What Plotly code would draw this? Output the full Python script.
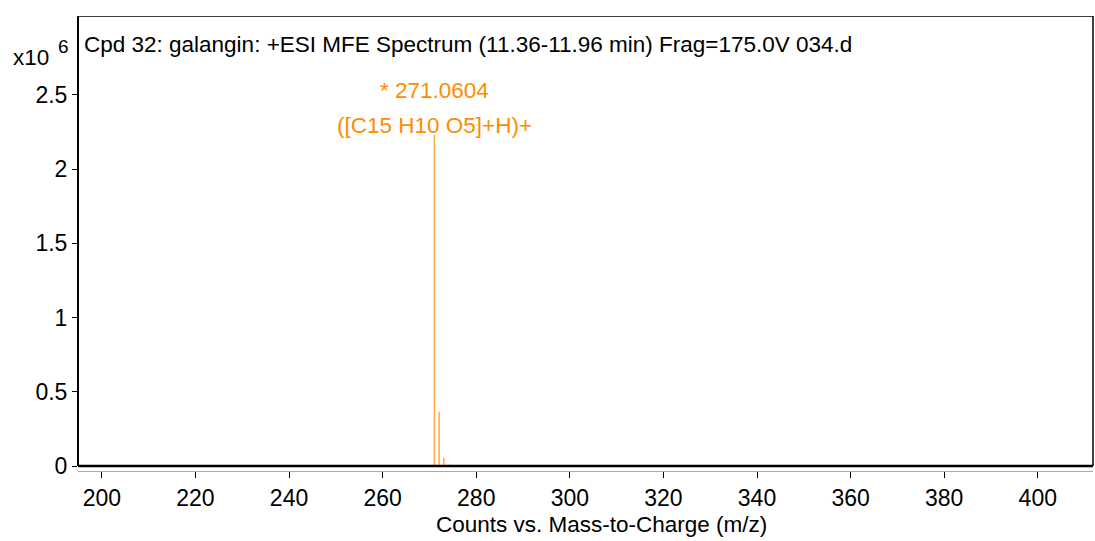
import plotly.graph_objects as go

# Spectrum peaks (m/z, counts in units of 1e6)
mz = [271.0604, 272.0637, 273.0665, 274.069]
counts = [2.23, 0.366, 0.054, 0.010]

peak_label_mz = 271.0604
peak_label_count = 2.23
peak_label_lines = ["* 271.0604", "([C15 H10 O5]+H)+"]

title_text = "Cpd 32: galangin: +ESI MFE Spectrum (11.36-11.96 min) Frag=175.0V 034.d"
x_title = "Counts vs. Mass-to-Charge (m/z)"
x_ticks = [200, 220, 240, 260, 280, 300, 320, 340, 360, 380, 400]
y_ticks = [0, 0.5, 1, 1.5, 2, 2.5]
y_ticklabels = ["0", "0.5", "1", "1.5", "2", "2.5"]

FONT = "Liberation Sans, Arial"
ORANGE = "#FF8C00"
LINE_ORANGE = "#FFAA44"

xs, ys = [], []
for m, c in zip(mz, counts):
    xs += [m, m, None]
    ys += [0, c, None]

fig = go.Figure()
fig.add_trace(go.Scatter(x=xs, y=ys, mode="lines",
                         line=dict(color=LINE_ORANGE, width=1.5),
                         hoverinfo="skip", showlegend=False))

xr = [194.9, 411.8]
yr = [-0.0337, 3.032]

PLOT_BOTTOM = 471
PLOT_H = 455
PLOT_LEFT = 78
PLOT_W = 1015


def py(ypx):
    return (PLOT_BOTTOM - ypx) / PLOT_H


def px(xpx):
    return (xpx - PLOT_LEFT) / PLOT_W


fig.update_layout(
    width=1095, height=541,
    margin=dict(l=78, r=2, t=16, b=70, autoexpand=False),
    paper_bgcolor="white", plot_bgcolor="white",
    font=dict(family=FONT, size=22, color="black"),
    xaxis=dict(range=xr, tickvals=x_ticks, ticks="outside", ticklen=6,
               tickcolor="black", tickwidth=1, showline=True, linecolor="#aaaaaa",
               linewidth=1, showgrid=False, zeroline=False, automargin=False,
               tickfont=dict(family=FONT, size=23)),
    yaxis=dict(range=yr, tickvals=y_ticks, ticktext=y_ticklabels, ticks="outside",
               ticklen=5, tickcolor="black", showline=False, showgrid=False,
               zeroline=False, automargin=False, tickfont=dict(family=FONT, size=23)),
)

# frame
fig.add_shape(type="line", xref="paper", yref="y", x0=0, x1=1, y0=0, y1=0,
              line=dict(color="black", width=2.5))
fig.add_shape(type="line", xref="paper", yref="y", x0=0, x1=0, y0=0, y1=yr[1],
              line=dict(color="black", width=2))
fig.add_shape(type="line", xref="paper", yref="y", x0=0, x1=1, y0=yr[1], y1=yr[1],
              line=dict(color="black", width=1.5))
fig.add_shape(type="line", xref="paper", yref="y", x0=1, x1=1, y0=0, y1=yr[1],
              line=dict(color="black", width=1.5))

# title inside plot
fig.add_annotation(xref="paper", yref="paper", x=px(82), y=py(44),
                   xanchor="left", yanchor="middle", text=title_text, showarrow=False,
                   font=dict(family=FONT, size=22.5, color="black"))
# exponent label
fig.add_annotation(xref="paper", yref="paper", x=px(11), y=py(57),
                   xanchor="left", yanchor="middle", text="x10", showarrow=False,
                   font=dict(family=FONT, size=22.5, color="black"))
fig.add_annotation(xref="paper", yref="paper", x=px(56), y=py(47),
                   xanchor="left", yanchor="middle", text="6", showarrow=False,
                   font=dict(family=FONT, size=19, color="black"))
# x title
fig.add_annotation(xref="paper", yref="paper", x=px(601), y=py(524),
                   xanchor="center", yanchor="middle", text=x_title, showarrow=False,
                   font=dict(family=FONT, size=22.5, color="black"))
# peak labels
fig.add_annotation(x=peak_label_mz, y=peak_label_count, text=peak_label_lines[0],
                   showarrow=False, yanchor="middle", xanchor="center",
                   yshift=466 - 91 - 2.23 * 148.4,
                   font=dict(family=FONT, size=22.5, color=ORANGE))
fig.add_annotation(x=peak_label_mz, y=peak_label_count, text=peak_label_lines[1],
                   showarrow=False, yanchor="middle", xanchor="center",
                   yshift=466 - 126 - 2.23 * 148.4,
                   font=dict(family=FONT, size=22.5, color=ORANGE))

fig.write_html("out.html",
               config={"displayModeBar": False},
               post_script="document.body.style.margin='0';"
                           "document.body.style.overflow='hidden';")
